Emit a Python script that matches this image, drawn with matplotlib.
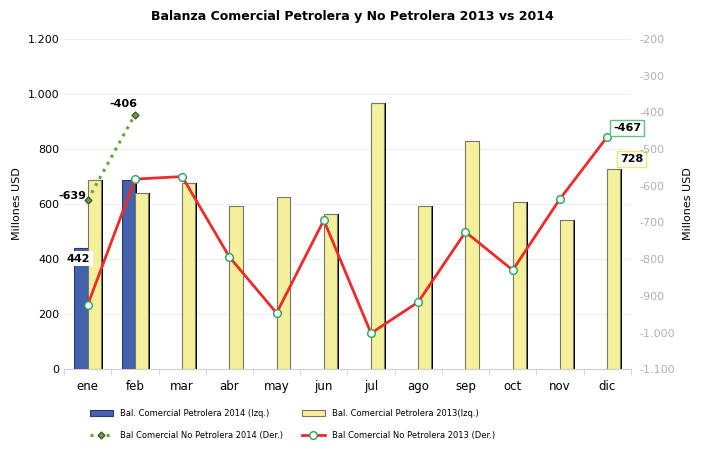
import numpy as np
import matplotlib.pyplot as plt
from matplotlib.ticker import FuncFormatter

# %% data
meses = ['ene', 'feb', 'mar', 'abr', 'may', 'jun', 'jul', 'ago', 'sep', 'oct', 'nov', 'dic']
petrolera_2014 = [442, 687]
petrolera_2013 = [687, 642, 675, 593, 625, 564, 967, 593, 829, 607, 542, 728]
no_petrolera_2014 = [-639, -406]
no_petrolera_2013 = [-925, -582, -575, -794, -947, -694, -1002, -917, -726, -830, -636, -467]

def miles(v, pos):
    s = '{:,.0f}'.format(v)
    return s.replace(',', '.')

# %% figure
fig = plt.figure(figsize=(7.04, 4.53), dpi=100)
ax = fig.add_axes([0.091, 0.185, 0.805, 0.729])
ax2 = ax.twinx()

x = np.arange(len(meses))
w = 0.28
off = 0.035  # sombra de las barras

# sombras negras
ax.bar(x[:2] - w/2 + off, petrolera_2014, w, color='black', zorder=2)
ax.bar(x + w/2 + off, petrolera_2013, w, color='black', zorder=2)
b1 = ax.bar(x[:2] - w/2, petrolera_2014, w, color='#4463ad', edgecolor='#2a3a66', lw=0.8, zorder=3,
            label='Bal. Comercial Petrolera 2014 (Izq.)')
b2 = ax.bar(x + w/2, petrolera_2013, w, color='#f4f09c', edgecolor='#777766', lw=0.8, zorder=3,
            label='Bal. Comercial Petrolera 2013(Izq.)')

ax.set_ylim(0, 1200)
ax.set_yticks(np.arange(0, 1201, 200))
ax.yaxis.set_major_formatter(FuncFormatter(miles))
ax.set_xlim(-0.5, 11.5)
ax.set_xticks(x)
ax.set_xticklabels(meses)
ax.set_xticks(np.arange(-0.5, 12, 1), minor=True)
ax.tick_params(axis='x', which='major', length=0, pad=8, labelsize=8.5)
ax.tick_params(axis='x', which='minor', length=4, color='#d0d0d0')
ax.tick_params(axis='y', length=0, labelsize=8)
ax.grid(axis='y', color='#eeeeee', lw=0.8, zorder=0)
ax.set_axisbelow(True)
for s in ['top', 'right', 'left']:
    ax.spines[s].set_visible(False)
ax.spines['bottom'].set_color('#d0d0d0')
ax.set_ylabel('Millones USD', fontsize=8, labelpad=4)

# eje derecho
l1, = ax2.plot(x[:2], no_petrolera_2014, ls=':', lw=2.2, color='#70a040', marker='D', ms=3.5,
               mfc='#70a040', mec='#405a30', zorder=5, label='Bal Comercial No Petrolera 2014 (Der.)')
l2, = ax2.plot(x, no_petrolera_2013, color='#ee2a2a', lw=2, marker='o', ms=5.5, mfc='white',
               mec='#2aa060', mew=1, zorder=6, label='Bal Comercial No Petrolera 2013 (Der.)')
ax2.set_ylim(-1100, -200)
ax2.set_yticks(np.arange(-1100, -199, 100))
ax2.yaxis.set_major_formatter(FuncFormatter(miles))
ax2.tick_params(axis='y', length=0, labelsize=8, labelcolor='#b0b0b0', pad=6)
for s in ['top', 'right', 'left', 'bottom']:
    ax2.spines[s].set_visible(False)
ax2.set_ylabel('Millones USD', fontsize=8, labelpad=6)

# etiquetas de datos
ax.text(x[0] - w/2 - 0.05, petrolera_2014[0] - 40, '442', fontsize=8, fontweight='bold', ha='center', va='center',
        bbox=dict(fc='white', ec='none', pad=2), zorder=7)
ax2.text(x[0] - 0.32, no_petrolera_2014[0] + 10, '-639', fontsize=8, fontweight='bold', ha='center', va='center', zorder=7)
ax2.text(x[1] - 0.25, no_petrolera_2014[1] + 28, '-406', fontsize=8, fontweight='bold', ha='center', va='center', zorder=7)
ax2.text(x[11] + 0.42, no_petrolera_2013[11] + 25, '-467', fontsize=8, fontweight='bold', ha='center', va='center',
         bbox=dict(fc='white', ec='#60c080', pad=2), zorder=7)
ax.text(x[11] + 0.52, petrolera_2013[11] + 35, '728', fontsize=8, fontweight='bold', ha='center', va='center',
        bbox=dict(fc='white', ec='#f0e870', pad=2), zorder=7)

fig.suptitle('Balanza Comercial Petrolera y No Petrolera 2013 vs 2014', fontsize=9, fontweight='bold', y=0.978)

fig.legend(handles=[b1, l1, b2, l2], loc='lower center', bbox_to_anchor=(0.415, 0.012), ncol=2,
           frameon=False, fontsize=6, columnspacing=2.3, handlelength=2.8, labelspacing=1.6)

fig.savefig('out.png', dpi=100)
